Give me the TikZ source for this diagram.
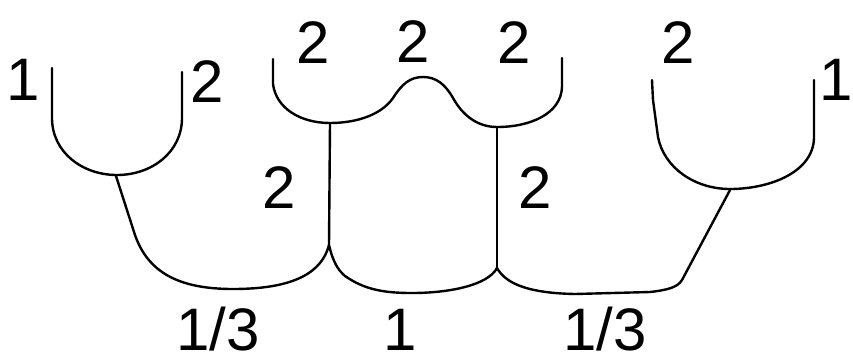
\documentclass[tikz,border=0pt]{standalone}
\usepackage{fontspec}
\setmainfont{Liberation Sans}
\begin{document}
\begin{tikzpicture}[x=1pt,y=-1pt,
  curve/.style={line width=2.4pt,line join=round,line cap=round,black},
  lab/.style={anchor=base,inner sep=0pt,font=\fontsize{60}{60}\selectfont}]
\useasboundingbox (0,0) rectangle (853,362);
% left U
\draw[curve] (52,68) -- (52,118) .. controls (52,152) and (82,175) .. (117,175)
  .. controls (152,175) and (182,152) .. (182,118) -- (182,72);
% middle top with bump
\draw[curve] (273,59) -- (273,84) .. controls (276,108) and (300,123) .. (330,123)
  .. controls (358,123) and (382,114) .. (393,98)
  .. controls (402,84) and (410,77) .. (423,77)
  .. controls (436,77) and (445,84) .. (453,98)
  .. controls (463,116) and (478,127) .. (497,127)
  .. controls (530,127) and (561,114) .. (562,87) -- (562,58);
% right U
\draw[curve] (652,80) -- (653,100) -- (658,137) .. controls (664,168) and (695,189) .. (730,189)
  .. controls (770,189) and (814,172) .. (814,137) -- (814,80);
% verticals
\coordinate (jl) at (329,245);
\coordinate (jr) at (497,268);
\draw[curve] (330,123) -- (jl);
\draw[curve] (497,127) -- (jr);
% left stem + bottom
\draw[curve] (116,176) -- (135,235) .. controls (148,272) and (178,289) .. (233,289)
  .. controls (295,289) and (322,272) .. (jl);
% middle bottom
\draw[curve] (jl) .. controls (333,262) and (338,270) .. (345,276)
  .. controls (365,290) and (385,293) .. (412,293)
  .. controls (450,293) and (488,285) .. (jr);
% right bottom
\draw[curve] (jr) .. controls (504,280) and (520,293) .. (575,294)
  -- (650,292) .. controls (668,290) and (678,287) .. (682,280) -- (730,190);
% labels
\node[lab] (l1) at (23,100) {1};
\node[lab] (l2) at (207,102) {2};
\node[lab] (t1) at (313,63) {2};
\node[lab] (t2) at (413,62) {2};
\node[lab] (t3) at (514,63) {2};
\node[lab] (t4) at (678,63) {2};
\node[lab] (r1) at (836,100) {1};
\node[lab] (m1) at (279,208) {2};
\node[lab] (m2) at (535,208) {2};
\node[lab] (b1) at (218,350) {1/3};
\node[lab] (b2) at (400,350) {1};
\node[lab] (b3) at (605,350) {1/3};
\end{tikzpicture}
\end{document}
